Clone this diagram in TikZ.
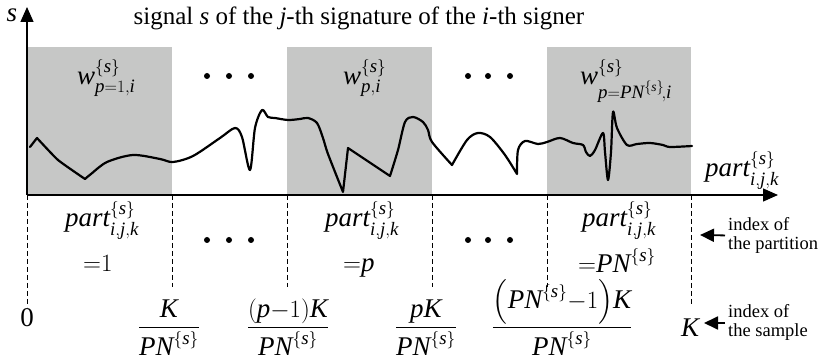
\documentclass[tikz,border=0pt]{standalone}
\usepackage{amsmath}
\usepackage{fontspec}
\setmainfont{Liberation Serif}
\usetikzlibrary{arrows.meta}
\definecolor{boxgray}{RGB}{198,199,198}
\newcommand\mi[1]{\mathit{#1}}
\newcommand\sset{^{\{\mi{s}\}}}
\begin{document}
\begin{tikzpicture}[x=1pt,y=-1pt,
  big/.style={font=\fontsize{27}{32}\selectfont, inner sep=0pt},
  small/.style={font=\fontsize{18.5}{19.5}\selectfont, inner sep=0pt, align=left},
  axis/.style={line width=1.4pt},
  guide/.style={line width=1pt, dash pattern=on 5pt off 3pt},
  sig/.style={line width=2.2pt, line join=round, line cap=round},
  win/.style={fill=boxgray, draw=none},
  tip/.style={-{Triangle[length=15pt,width=13pt]}},
  smalltip/.style={line width=1.8pt, -{Triangle[length=14pt,width=13pt]}},
  dot/.style={fill=black}]
\useasboundingbox (0,0) rectangle (823,363);
% windows
\fill[win] (27,47) rectangle (172,195);
\fill[win] (287,47) rectangle (432,195);
\fill[win] (547,47) rectangle (691,195);
% coordinates
\coordinate (O) at (27,195);
\coordinate (ytop) at (27,7);
\coordinate (xend) at (778,195);
% guides
\foreach \x/\y in {27/307,172/287,287/287,432/287,547/287,691/305}
  \draw[guide] (\x,195) -- (\x,\y);
% signal
\draw[sig] (30,147) -- (37,138)
  -- plot[smooth,tension=0.3] coordinates {(37,138) (58,160) (85,179)}
  -- plot[smooth,tension=0.5] coordinates {(85,179) (91,174) (107,162) (133,155) (160,159) (173,162) (193,156) (220,138) (235,128) (242,137) (250,170) (255,128) (262,110) (268,117) (275,118) (288,120) (300,119) (308,118) (317,123) (323,138) (328,154) (343,192)}
  -- (348,148) -- (390,176)
  -- plot[smooth,tension=0.5] coordinates {(390,176) (398,150) (405,122) (413,117) (423,122) (428,130) (432,142) (452,165)}
  -- plot[smooth,tension=0.5] coordinates {(452,165) (467,140) (478,133) (490,137) (505,155) (517,174)}
  -- plot[smooth,tension=0.5] coordinates {(517,174) (518,150) (525,141) (538,144) (547,142) (560,138) (573,143) (583,145) (586,152) (590,156) (595,150) (603,133) (605,152) (608,180) (611,152) (613,112) (617,128) (627,145) (637,144) (650,143) (663,145) (670,147) (692,146)};
% axes
\draw[axis,tip] (O) -- (ytop);
\draw[axis,tip] (O) -- (xend);
% dots
\foreach \x in {207,229,251,468,488,510} {
  \fill[dot] (\x,76) circle (3);
  \fill[dot] (\x,240) circle (3);
}
% labels
\node[big, font=\fontsize{25}{30}\selectfont, anchor=base] (title) at (359,25) {signal \textit{s} of the \textit{j}-th signature of the \textit{i}-th signer};
\node[big] (slab) at (12,15) {$\mi{s}$};
\node[big, anchor=base west] (w1) at (77,85) {$\mi{w}\sset_{\mi{p}{=}1,\mi{i}}$};
\node[big, anchor=base west] (w2) at (343,85) {$\mi{w}\sset_{\mi{p},\mi{i}}$};
\node[big, anchor=base west] (w3) at (580,85) {$\mi{w}\sset_{\mi{p}{=}\mi{PN}^{\{\mi{s}\}}\!,\mi{i}}$};
\node[big, anchor=base west] (xlab) at (705,177) {$\mi{part}\sset_{\mi{i},\mi{j},\mi{k}}$};
\node[big, anchor=base west] (p1) at (65,227) {$\mi{part}\sset_{\mi{i},\mi{j},\mi{k}}$};
\node[big, anchor=base west] (p2) at (325,227) {$\mi{part}\sset_{\mi{i},\mi{j},\mi{k}}$};
\node[big, anchor=base west] (p3) at (582,227) {$\mi{part}\sset_{\mi{i},\mi{j},\mi{k}}$};
\node[big, anchor=base west] (e1) at (83,272) {${=}1$};
\node[big, anchor=base west] (e2) at (343,272) {${=}\mi{p}$};
\node[big, anchor=base west] (e3) at (578,273) {${=}\mi{PN}\sset$};
\node[big, anchor=base] (zero) at (27,327) {0};
\node[big, anchor=base] (f1) at (169,334) {$\dfrac{\mi{K}}{\mi{PN}\sset}$};
\node[big, anchor=base] (f2) at (288,334) {$\dfrac{(\mi{p}{-}1)\mi{K}}{\mi{PN}\sset}$};
\node[big, anchor=base] (f3) at (426,334) {$\dfrac{\mi{pK}}{\mi{PN}\sset}$};
\node[big, anchor=base] (f4) at (562,334) {$\dfrac{\left(\mi{PN}\sset{-}1\right)\!\mi{K}}{\mi{PN}\sset}$};
\node[big, anchor=base west] (Klab) at (681,337) {$\mi{K}$};
\node[small, anchor=north west] (idxpart) at (728,217) {index of\\the partition};
\node[small, anchor=north west] (idxsample) at (728,304) {index of\\the sample};
\coordinate (parttip) at (700,235);
\coordinate (sampletip) at (704,323);
\draw[smalltip] (idxpart.west -| 725,0) -- (parttip);
\draw[smalltip] (725,323) -- (sampletip);
\end{tikzpicture}
\end{document}
